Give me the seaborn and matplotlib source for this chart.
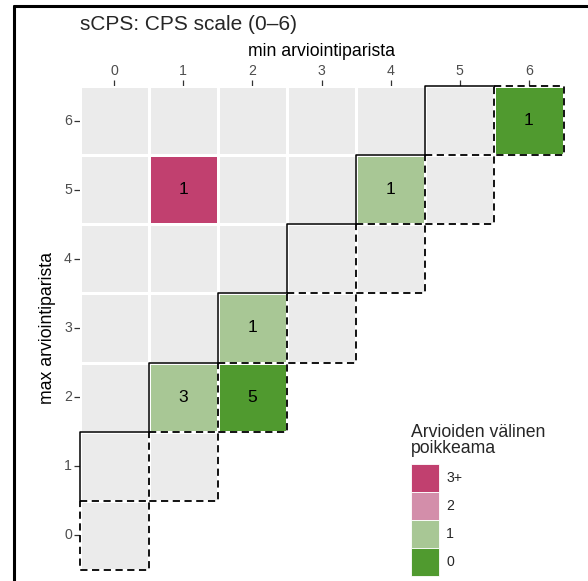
import numpy as np
import pandas as pd
import seaborn as sns
import matplotlib
matplotlib.use('Agg')
import matplotlib.pyplot as plt
from matplotlib.colors import ListedColormap
from matplotlib.patches import Patch, Rectangle
from matplotlib.lines import Line2D

# ---- data ----
scale_values = [0, 1, 2, 3, 4, 5, 6]
pair_min = [1, 4, 6, 2, 1, 2]
pair_max = [5, 5, 6, 3, 2, 2]
pair_count = [1, 1, 1, 1, 3, 5]
diff_labels = ['3+', '2', '1', '0']
diff_colors = ['#C1406F', '#D38EAA', '#A8C795', '#509A2F']
empty_color = '#EBEBEB'

title = 'sCPS: CPS scale (0\u20136)'
x_label = 'min arviointiparista'
y_label = 'max arviointiparista'
legend_title = 'Arvioiden v\u00e4linen\npoikkeama'

sns.set_theme(style='white')
plt.rcParams['font.family'] = ['Liberation Sans', 'DejaVu Sans']

rows = scale_values[::-1]
code = pd.DataFrame(-1.0, index=rows, columns=scale_values)
annot = pd.DataFrame('', index=rows, columns=scale_values)
for mn, mx, c in zip(pair_min, pair_max, pair_count):
    code.loc[mx, mn] = min(mx - mn, 3)
    annot.loc[mx, mn] = str(c)
mask = np.array([[r < col for col in scale_values] for r in rows])

cmap = ListedColormap([empty_color] + diff_colors[::-1])

W, H = 588, 581
fig = plt.figure(figsize=(W / 100, H / 100), dpi=100)
ax = fig.add_axes([79.5 / W, 11 / H, 484 / W, 484 / H])

sns.heatmap(code, mask=mask, cmap=cmap, vmin=-1.5, vmax=3.5,
            annot=annot.values, fmt='',
            annot_kws={'fontsize': 12.5, 'color': 'black'},
            linewidths=1.0, linecolor='white', cbar=False, ax=ax)

ax.set_facecolor('white')
ax.xaxis.tick_top()
ax.xaxis.set_label_position('top')
ax.set_xticklabels([str(v) for v in scale_values], rotation=0)
ax.set_yticklabels([str(v) for v in rows], rotation=0)
ax.tick_params(axis='both', length=4, width=0.9, color='#333333',
               labelcolor='#4D4D4D', labelsize=10.2, pad=1.5,
               top=True, left=True, bottom=False)
ax.set_xlabel(x_label, fontsize=12.7, color='black', labelpad=6)
ax.set_ylabel(y_label, fontsize=12.7, color='black', labelpad=6)

col_of = {v: i for i, v in enumerate(scale_values)}
row_of = {v: i for i, v in enumerate(rows)}

# solid staircase along the upper-left edge of the (k, k+1) band
pts = []
for k in scale_values[:-1]:
    cx, ry = col_of[k], row_of[k + 1]
    pts += [(cx, ry + 1), (cx, ry), (cx + 1, ry)]
xs, ys = zip(*pts)
ax.plot(xs, ys, color='black', lw=1.1, solid_capstyle='butt', clip_on=False)

# dashed boxes around the diagonal cells
for k in scale_values:
    ax.add_patch(Rectangle((col_of[k], row_of[k]), 1, 1, fill=False,
                           ec='black', lw=1.3, ls=(0, (4, 2.5)), clip_on=False))

# legend
handles = [Patch(facecolor=c, edgecolor='white', lw=0.6) for c in diff_colors]
leg = fig.legend(handles, diff_labels, title=legend_title,
                 loc='lower left', bbox_to_anchor=(411 / W, 5 / H),
                 frameon=False, fontsize=10.2, title_fontsize=12.7,
                 handlelength=1.98, handleheight=2.66, labelspacing=0,
                 handletextpad=0.5, borderpad=0, borderaxespad=0,
                 alignment='left')
leg.get_title().set_linespacing(0.95)
leg._legend_box.sep = 5

fig.text(80 / W, 1 - 30 / H, title, fontsize=15, ha='left', va='baseline')

# outer frame (top and left edges of the screenshot)
fig.add_artist(Line2D([14 / W, 1], [1 - 6 / H, 1 - 6 / H], transform=fig.transFigure,
                      color='black', lw=2.2))
fig.add_artist(Line2D([14 / W, 14 / W], [0, 1 - 6 / H], transform=fig.transFigure,
                      color='black', lw=2.2))

fig.savefig('out.png', dpi=100)
